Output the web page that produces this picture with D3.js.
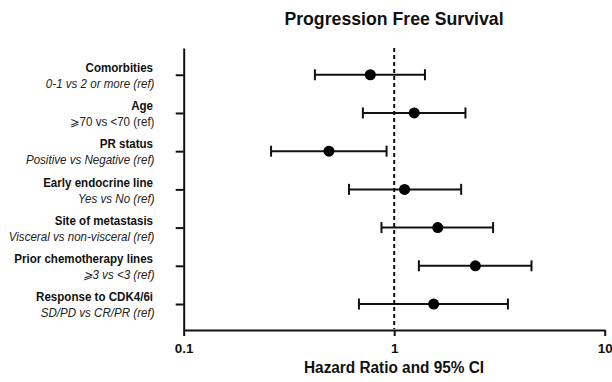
<!DOCTYPE html>
<html><head><meta charset="utf-8">
<script src="https://cdn.jsdelivr.net/npm/d3@7"></script>
<style>body{margin:0;background:#fff;} svg{display:block;font-family:"Liberation Sans",Arial,sans-serif;}</style>
</head><body>
<svg id="c" width="612" height="382"></svg>
<script>
const categories = ["Comorbities","Age","PR status","Early endocrine line","Site of metastasis","Prior chemotherapy lines","Response to CDK4/6i"];
const subLabels = ["0-1 vs 2 or more (ref)","⩾70 vs <70 (ref)","Positive vs Negative (ref)","Yes vs No (ref)","Visceral vs non-visceral (ref)","⩾3 vs <3 (ref)","SD/PD vs CR/PR (ref)"];
const subItalic = [true,false,true,true,true,true,true];
const hr    = [0.77,1.245,0.49,1.12,1.61,2.43,1.54];
const lower = [0.42,0.71,0.26,0.61,0.87,1.31,0.68];
const upper = [1.40,2.18,0.92,2.08,2.95,4.49,3.47];
const xTicks = [0.1,1,10];

const svg = d3.select("#c");
const x = d3.scaleLog().domain([0.1,10]).range([183.7,604.7]);
const y = d3.scaleLinear().domain([-0.7,6.68]).range([48,330]);
const ink = "#111";

// title
svg.append("text").attr("x",394).attr("y",25).attr("text-anchor","middle")
  .attr("font-size",17.7).attr("font-weight","bold").attr("fill",ink).text("Progression Free Survival");

// x axis
const xa = svg.append("g").attr("transform","translate(0,330)")
  .call(d3.axisBottom(x).tickValues(xTicks).tickFormat(d3.format("")).tickSize(6).tickSizeOuter(0));
xa.select(".domain").attr("stroke",ink).attr("stroke-width",2);
xa.selectAll(".tick line").attr("stroke",ink).attr("stroke-width",2);
xa.selectAll(".tick text").attr("font-size",13.5).attr("font-weight","bold").attr("fill",ink)
  .attr("font-family","Liberation Sans, Arial, sans-serif").attr("y",0).attr("dy",23);

// y axis
const ya = svg.append("g").attr("transform","translate(183.7,0)")
  .call(d3.axisLeft(y).tickValues(d3.range(categories.length)).tickFormat("").tickSize(8).tickSizeOuter(0));
ya.select(".domain").attr("stroke",ink).attr("stroke-width",2);
ya.selectAll(".tick line").attr("stroke",ink).attr("stroke-width",2);

// reference line
svg.append("line").attr("x1",x(1)).attr("x2",x(1)).attr("y1",y(-0.7)).attr("y2",329)
  .attr("stroke",ink).attr("stroke-width",2).attr("stroke-dasharray","4,3");

// labels (slightly condensed like the reference)
const lab = svg.append("g").attr("transform","translate(154,0) scale(0.95,1)");
categories.forEach((c,i)=>{
  lab.append("text").attr("x",-1).attr("y",y(i)-2.7).attr("text-anchor","end")
    .attr("font-size",12.2).attr("font-weight","bold").attr("fill",ink).text(c);
  lab.append("text").attr("x",0.5).attr("y",y(i)+13.3).attr("text-anchor","end")
    .attr("font-size",12.2).attr("font-style",subItalic[i]?"italic":"normal").attr("fill","#222").text(subLabels[i]);
});

// error bars
const g = svg.append("g");
categories.forEach((c,i)=>{
  const yy = y(i);
  g.append("line").attr("x1",x(lower[i])).attr("x2",x(upper[i])).attr("y1",yy).attr("y2",yy).attr("stroke",ink).attr("stroke-width",2);
  [lower[i],upper[i]].forEach(v=>{
    g.append("line").attr("x1",x(v)).attr("x2",x(v)).attr("y1",yy-5.5).attr("y2",yy+5.5).attr("stroke",ink).attr("stroke-width",2);
  });
  g.append("circle").attr("cx",x(hr[i])).attr("cy",yy).attr("r",5.5).attr("fill","#000");
});

// axis title
svg.append("g").attr("transform","translate(394,372.5) scale(0.96,1)")
  .append("text").attr("x",0).attr("y",0).attr("text-anchor","middle")
  .attr("font-size",16).attr("font-weight","bold").attr("fill",ink).text("Hazard Ratio and 95% CI");
</script>
</body></html>
